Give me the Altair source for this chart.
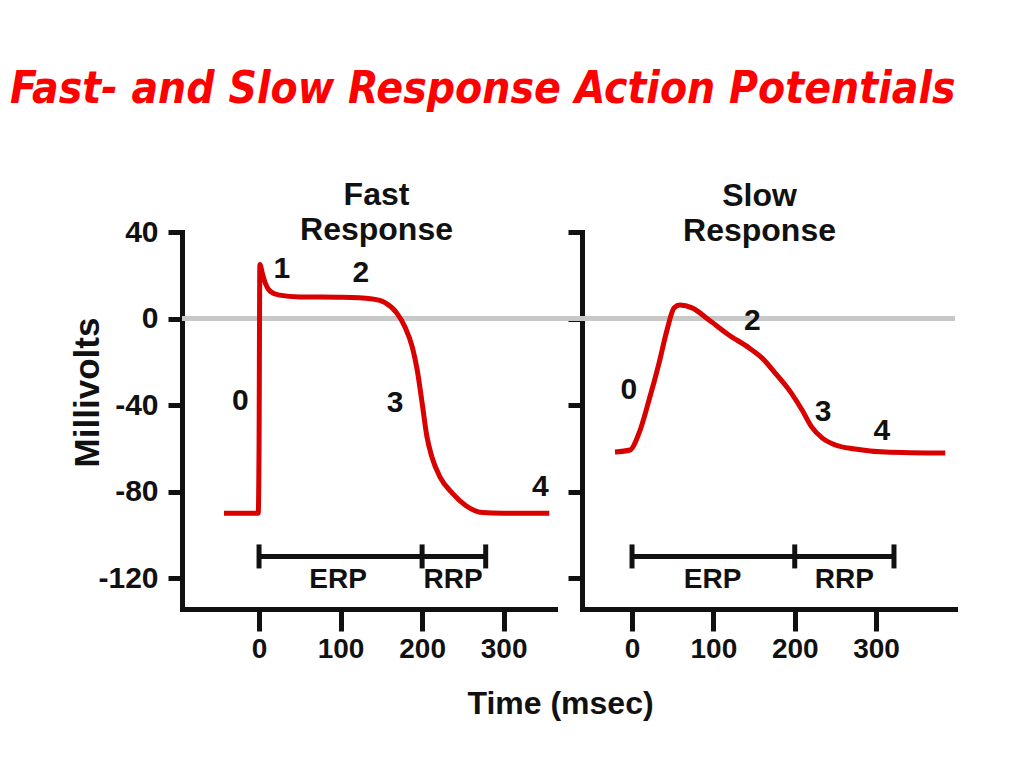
import altair as alt
import pandas as pd

# ---------------- data ----------------
fast_t = [-43, -1, 0, 1, 4, 8, 14, 25, 50, 102, 139, 155, 169, 179, 188, 194, 200, 206, 212, 222, 237, 253, 274, 298, 356]
fast_mv = [-90, -90, -60, 25, 21, 16, 12.5, 10.8, 10, 9.8, 9.0, 7.2, 2.5, -3.9, -13.2, -23.8, -39, -54.8, -64, -73.3, -80.7, -86.3, -89.7, -90, -90]

slow_t = [-21, -2.5, 8.6, 20.9, 33.2, 43, 51.7, 59, 73.8, 94.7, 119, 144, 160, 176, 193, 209, 221, 234, 250, 274, 311, 385]
slow_mv = [-61.7, -60.8, -53, -37.7, -20.6, -5.3, 4.9, 6.2, 4.9, -0.7, -7.6, -13.6, -18.3, -25.2, -33, -42.3, -50.2, -55.3, -58.5, -60.3, -61.7, -62.2]

fast_phase = ["0", "1", "2", "3", "4"]
fast_phase_t = [-23, 28, 125, 167, 345]
fast_phase_mv = [-38, 23, 21, -39, -78]

slow_phase = ["0", "2", "3", "4"]
slow_phase_t = [-4, 148, 235, 307]
slow_phase_mv = [-33, -1, -43, -52]

fast_bar_t = [0, 200, 278]
slow_bar_t = [0, 200, 322]
bar_mv = -110

period_names = ["ERP", "RRP"]
fast_period_t = [97, 238]
slow_period_t = [99, 261]
period_mv = -121

x_ticks = [0, 100, 200, 300]
y_ticks = [-120, -80, -40, 0, 40]

fast_domain = [-94.5, 363]
slow_domain = [-61.5, 397]
slow_zero_start = -100
y_domain = [-134.3, 40]

RED = "#d90000"
INK = "#111111"
FONT = "Liberation Sans, Arial, sans-serif"


def panel(title_lines, title_dx, title_offset, t, mv, ph, ph_t, ph_mv, bar_t, per_t, xdom,
          zero_start, first):
    curve = pd.DataFrame({"t": t, "mv": mv})
    zero = pd.DataFrame({"t": [zero_start], "t2": [xdom[1]], "mv": [0]})
    phases = pd.DataFrame({"t": ph_t, "mv": ph_mv, "lab": ph})
    bar = pd.DataFrame({"t": [bar_t[0]], "t2": [bar_t[-1]], "mv": [bar_mv]})
    bar_ends = pd.DataFrame({"t": bar_t, "mv": [bar_mv] * len(bar_t)})
    periods = pd.DataFrame({"t": per_t, "mv": [period_mv] * len(per_t), "lab": period_names})

    if first:
        xaxis = alt.Axis(values=x_ticks, title="Time (msec)", titleFont=FONT, titleFontSize=32,
                         titleFontWeight="bold", titleColor=INK, titleX=378, titleY=104,
                         titleAlign="center", titleBaseline="alphabetic")
        yaxis = alt.Axis(values=y_ticks, title="Millivolts", titleFont=FONT, titleFontSize=35,
                         titleFontWeight="bold", titleColor=INK, titleX=-84, titleY=160,
                         titleAlign="center", titleBaseline="alphabetic", titleAngle=-90,
                         labelPadding=10, labelExpr="toString(datum.value)")
    else:
        xaxis = alt.Axis(values=x_ticks, title=None)
        yaxis = alt.Axis(values=y_ticks, title=None, labels=False)

    xs = alt.Scale(domain=xdom, nice=False, zero=False)
    ys = alt.Scale(domain=y_domain, nice=False, zero=False)
    X = alt.X("t:Q", scale=xs, axis=xaxis)
    Y = alt.Y("mv:Q", scale=ys, axis=yaxis)

    zl = alt.Chart(zero).mark_rule(color="#c8c8c8", strokeWidth=5, clip=False).encode(
        x=X, x2="t2:Q", y=Y)
    line = alt.Chart(curve).mark_line(color=RED, strokeWidth=5, interpolate="monotone",
                                      strokeJoin="round").encode(x=X, y=Y)
    ptxt = alt.Chart(phases).mark_text(font=FONT, fontSize=30, fontWeight="bold",
                                       color=INK, baseline="middle").encode(x=X, y=Y, text="lab:N")
    brule = alt.Chart(bar).mark_rule(color=INK, strokeWidth=5).encode(x=X, x2="t2:Q", y=Y)
    bticks = alt.Chart(bar_ends).mark_tick(color=INK, orient="vertical", size=24,
                                           thickness=5, opacity=1).encode(x=X, y=Y)
    btxt = alt.Chart(periods).mark_text(font=FONT, fontSize=28, fontWeight="bold",
                                        color=INK, baseline="middle").encode(x=X, y=Y, text="lab:N")

    return alt.layer(zl, line, ptxt, brule, bticks, btxt).properties(
        width=373, height=377,
        title=alt.TitleParams(title_lines, font=FONT, fontSize=32, fontWeight="bold",
                              color=INK, anchor="middle", offset=title_offset, dx=title_dx,
                              lineHeight=35),
    )


left = panel(["Fast", "Response"], 8, -30, fast_t, fast_mv, fast_phase, fast_phase_t,
             fast_phase_mv, fast_bar_t, fast_period_t, fast_domain, fast_domain[0], True)
right = panel(["Slow", "Response"], -9, -18, slow_t, slow_mv, slow_phase, slow_phase_t,
              slow_phase_mv, slow_bar_t, slow_period_t, slow_domain, slow_zero_start, False)

chart = alt.hconcat(left, right, spacing=27, bounds="flush").properties(
    title=alt.TitleParams("Fast- and Slow Response Action Potentials", color="#ff0000",
                          font="DejaVu Sans Condensed, DejaVu Sans",
                          fontSize=44, fontStyle="italic", fontWeight="bold",
                          anchor="start", offset=67, dx=-60),
    padding={"left": 2, "top": 60, "right": 5, "bottom": 5},
).configure_axis(
    grid=False, domainColor=INK, domainWidth=5, domainCap="square",
    tickColor=INK, tickWidth=5, labelFont=FONT, labelFontWeight="bold",
    labelColor=INK,
).configure_axisX(tickSize=22, labelPadding=4, labelFontSize=28).configure_axisY(
    tickSize=14, labelFontSize=30
).configure_view(strokeWidth=0)

chart.save("out.html", embed_options={"renderer": "svg", "actions": False})
